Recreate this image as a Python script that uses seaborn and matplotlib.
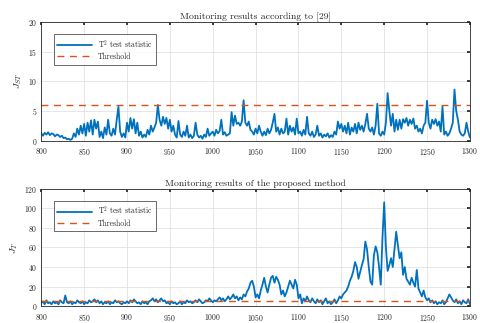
import numpy as np
import pandas as pd
import matplotlib
matplotlib.use("Agg")
import matplotlib.pyplot as plt
import seaborn as sns

x_start, x_stop, x_step = 800, 1300, 2

top_stat = [
    1.2, 0.8, 1.3, 1.0, 1.4, 0.9, 1.2, 1.1, 0.7, 1.0,
    0.9, 0.6, 0.8, 0.4, 0.5, 0.2, 0.3, 0.1, 0.3, 1.2,
    0.6, 2.0, 1.0, 2.5, 1.2, 2.8, 0.8, 3.0, 1.5, 3.4,
    1.0, 3.5, 2.0, 3.2, 0.6, 1.5, 0.4, 2.2, 1.0, 3.5,
    1.2, 0.8, 2.0, 1.0, 3.5, 5.7, 1.5, 0.6, 1.2, 0.5,
    3.0, 1.5, 3.8, 2.0, 3.6, 1.2, 3.0, 0.8, 1.5, 0.5,
    1.0, 0.6, 1.8, 1.0, 2.5, 1.5, 2.2, 3.0, 6.0, 3.5,
    2.5, 4.0, 2.8, 3.8, 2.0, 3.5, 1.5, 2.5, 1.0, 0.5,
    3.3, 1.0, 0.6, 1.5, 0.8, 2.5, 0.5, 1.0, 0.4, 0.8,
    3.0, 1.0, 0.5, 0.8, 0.3, 1.0, 0.6, 2.0, 0.8, 1.2,
    1.5, 0.8, 1.8, 1.2, 1.6, 3.5, 1.0, 1.4, 0.8, 1.0,
    1.2, 4.8, 2.5, 4.2, 2.8, 3.0, 2.5, 3.2, 6.8, 3.0,
    2.5, 3.2, 1.8, 1.5, 1.0, 2.0, 1.2, 2.5, 1.5, 0.8,
    1.5, 0.9, 2.0, 1.2, 1.8, 3.0, 4.5, 1.5, 2.2, 1.0,
    2.0, 1.2, 1.5, 3.7, 1.0, 2.5, 1.5, 2.2, 1.0, 3.7,
    1.2, 1.5, 0.8, 1.8, 1.0, 4.0, 1.2, 0.8, 1.5, 0.6,
    1.0, 2.5, 0.8, 1.2, 0.5, 1.0, 0.7, 1.2, 0.5, 0.9,
    0.6, 1.5, 1.0, 3.2, 2.0, 2.8, 1.5, 2.5, 1.2, 3.0,
    1.0, 2.2, 1.5, 2.8, 1.2, 3.0, 1.8, 2.5, 1.5, 2.8,
    4.5, 2.0, 1.5, 2.2, 1.0, 2.5, 6.2, 1.2, 0.8, 1.5,
    1.0, 3.0, 8.0, 5.0, 2.5, 4.5, 1.5, 3.5, 1.8, 3.5,
    2.0, 3.6, 3.0, 3.8, 2.5, 3.5, 2.8, 3.7, 2.0, 2.5,
    1.5, 2.0, 1.2, 2.5, 3.0, 6.7, 3.0, 2.0, 3.5, 2.8,
    3.6, 2.5, 3.2, 1.5, 5.7, 1.0, 1.5, 0.8, 1.2, 2.0,
    3.0, 8.6, 5.0, 3.5, 1.5, 1.0, 0.8, 1.2, 3.0, 1.5,
    0.5,
]

bottom_stat = [
    3, 5, 2, 6, 3, 4, 2, 5, 3, 4,
    2, 6, 4, 3, 11, 4, 3, 5, 2, 4,
    3, 6, 4, 3, 5, 2, 4, 3, 6, 4,
    5, 7, 4, 6, 3, 5, 2, 4, 3, 5,
    2, 4, 3, 6, 4, 5, 3, 2, 4, 3,
    5, 3, 6, 4, 7, 5, 3, 4, 2, 5,
    3, 4, 2, 5, 6, 8, 5, 7, 4, 6,
    8, 5, 6, 3, 4, 2, 5, 3, 4, 2,
    3, 5, 2, 4, 3, 6, 4, 5, 3, 4,
    6, 4, 7, 5, 3, 4, 6, 5, 8, 6,
    4, 6, 5, 7, 9, 6, 8, 5, 7, 10,
    7, 9, 12, 8, 10, 6, 9, 7, 12, 10,
    15, 18, 24, 26, 20, 9, 12, 8, 16, 22,
    29, 20, 14, 22, 29, 31, 24, 30, 27, 22,
    12, 16, 10, 14, 20, 26, 22, 18, 27, 22,
    8, 12, 3, 8, 5, 10, 6, 4, 8, 5,
    3, 7, 4, 6, 2, 5, 8, 3, 5, 2,
    4, 7, 3, 6, 10, 8, 12, 14, 16, 20,
    26, 30, 36, 45, 40, 28, 35, 42, 48, 66,
    58, 40, 25, 22, 52, 61, 55, 40, 22, 70,
    106, 60, 36, 42, 49, 40, 58, 76, 62, 49,
    55, 32, 40, 28, 25, 22, 29, 24, 20, 37,
    18, 14, 10, 16, 9, 6, 8, 4, 6, 3,
    5, 2, 4, 3, 6, 2, 4, 8, 12, 9,
    6, 4, 7, 3, 5, 2, 6, 4, 3, 7,
    2,
]

top_threshold = 6.0
bottom_threshold = 5.0

titles = ["Monitoring results according to [29]",
          "Monitoring results of the proposed method"]
ylabels = [r"$J_{ST}$", r"$J_{T}$"]
legend_labels = [r"T$^2$ test statistic", "Threshold"]
x_ticks = [800, 850, 900, 950, 1000, 1050, 1100, 1150, 1200, 1250, 1300]
top_yticks = [0, 5, 10, 15, 20]
bottom_yticks = [0, 20, 40, 60, 80, 100, 120]

sns.set_theme(style="whitegrid")
plt.rcParams["font.family"] = ["cmr10", "DejaVu Serif"]
plt.rcParams["mathtext.fontset"] = "cm"
plt.rcParams["axes.formatter.use_mathtext"] = True

blue = "#0072BD"
orange = "#D95319"

x = np.arange(x_start, x_stop + 1, x_step)
fig = plt.figure(figsize=(4.8, 3.23), dpi=100)
ax1 = fig.add_axes([0.086, 0.565, 0.893, 0.367])
ax2 = fig.add_axes([0.086, 0.052, 0.893, 0.364])

panels = [
    (ax1, top_stat, top_threshold, top_yticks),
    (ax2, bottom_stat, bottom_threshold, bottom_yticks),
]
for k, (ax, stat, thr, yt) in enumerate(panels):
    df = pd.DataFrame({"x": x, "y": stat, "thr": thr})
    sns.lineplot(data=df, x="x", y="y", ax=ax, color=blue, lw=1.3,
                 label=legend_labels[0])
    sns.lineplot(data=df, x="x", y="thr", ax=ax, color=orange, lw=1.0,
                 linestyle=(0, (5, 4)), label=legend_labels[1])
    ax.set_xlim(x_start, x_stop)
    ax.set_ylim(yt[0], yt[-1])
    ax.set_xticks(x_ticks)
    ax.set_yticks(yt)
    ax.set_xlabel("")
    ax.set_ylabel(ylabels[k], fontsize=7, labelpad=3)
    ax.set_title(titles[k], fontsize=7, pad=2)
    ax.tick_params(axis="both", labelsize=5.5, direction="in", length=2,
                   top=True, right=True, colors="#262626")
    ax.tick_params(axis="x", pad=4)
    ax.tick_params(axis="y", pad=3)
    ax.grid(True, color="#dcdcdc", lw=0.5)
    for s in ax.spines.values():
        s.set_color("#262626")
        s.set_linewidth(0.6)
    leg = ax.legend(loc="upper left", fontsize=5.5, frameon=True,
                    fancybox=False, edgecolor="#262626", handlelength=4.5,
                    borderpad=0.5, labelspacing=0.25, handletextpad=0.8,
                    bbox_to_anchor=(0.02, 0.93))
    leg.get_frame().set_linewidth(0.6)

fig.savefig("out.png", dpi=100)
